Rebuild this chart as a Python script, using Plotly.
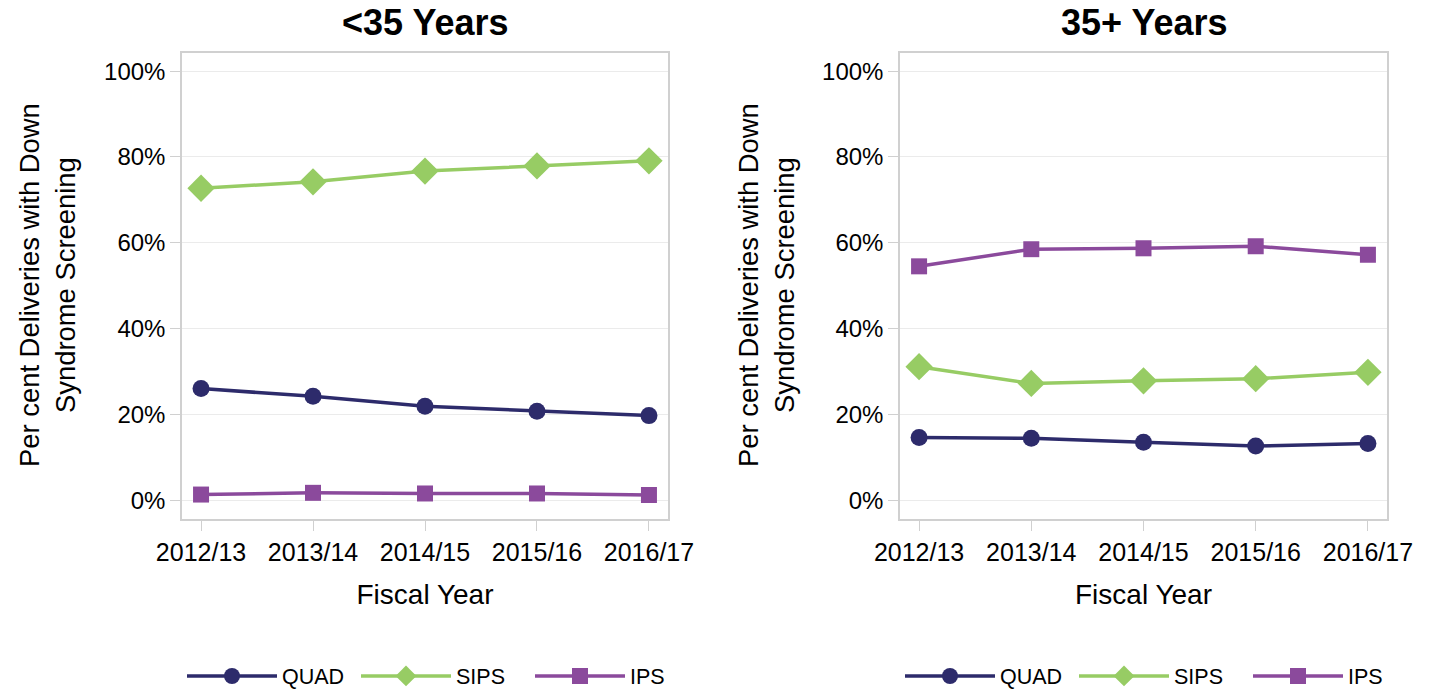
import plotly.graph_objects as go

years = ["2012/13", "2013/14", "2014/15", "2015/16", "2016/17"]
series_names = ["QUAD", "SIPS", "IPS"]

under35_quad = [26.0, 24.2, 21.9, 20.7, 19.7]
under35_sips = [72.7, 74.2, 76.7, 77.9, 79.1]
under35_ips = [1.3, 1.7, 1.55, 1.55, 1.2]

over35_quad = [14.6, 14.4, 13.5, 12.6, 13.2]
over35_sips = [31.1, 27.2, 27.8, 28.3, 29.8]
over35_ips = [54.5, 58.5, 58.7, 59.2, 57.2]

y_ticks = [0, 20, 40, 60, 80, 100]
y_tick_labels = ["0%", "20%", "40%", "60%", "80%", "100%"]

colors = {"QUAD": "#2D2B6B", "SIPS": "#97CC64", "IPS": "#8B4A9C"}
symbols = {"QUAD": "circle", "SIPS": "diamond", "IPS": "square"}
msize = {"QUAD": 17, "SIPS": 21, "IPS": 16}

W, H = 1429, 689
FONT = "Liberation Sans, Arial, sans-serif"

fig = go.Figure()

panels = [
    ("x", "y", "legend", [under35_quad, under35_sips, under35_ips]),
    ("x2", "y2", "legend2", [over35_quad, over35_sips, over35_ips]),
]
for xa, ya, lg, data in panels:
    for name, vals in zip(series_names, data):
        fig.add_trace(go.Scatter(
            x=years, y=vals, name=name, mode="lines+markers",
            xaxis=xa, yaxis=ya, legend=lg,
            line=dict(color=colors[name], width=3.5),
            marker=dict(symbol=symbols[name], size=msize[name], color=colors[name]),
        ))

def px(x):
    return x / W

def py(y):
    return (H - y) / H

ydom = [py(519), py(52.7)]
axis_common = dict(
    showline=True, linecolor="#D0D0D0", linewidth=1.5, mirror=True,
    ticks="outside", ticklen=10, tickcolor="#D0D0D0", tickwidth=1,
    tickfont=dict(size=24, color="#000", family=FONT), automargin=False,
)
xcommon = dict(axis_common, type="category", range=[-0.17, 4.17], showgrid=False,
               tickfont=dict(size=25, color="#000", family=FONT),
               title=dict(text="Fiscal Year", font=dict(size=28, color="#000", family=FONT), standoff=20))
ycommon = dict(axis_common, range=[-4.4, 104.3], tickvals=y_ticks, ticktext=y_tick_labels,
               showgrid=True, gridcolor="#EBEBEB", gridwidth=1.3, zeroline=False)

legend_common = dict(orientation="h", xanchor="left", yanchor="middle",
                     font=dict(size=21.5, family=FONT, color="#000"), entrywidth=69, itemwidth=90)

fig.update_layout(
    width=W, height=H,
    margin=dict(l=0, r=0, t=0, b=0, autoexpand=False),
    plot_bgcolor="white", paper_bgcolor="white",
    font=dict(family=FONT, color="#000"),
    xaxis=dict(xcommon, domain=[px(182), px(668)], anchor="y"),
    yaxis=dict(ycommon, domain=ydom, anchor="x"),
    xaxis2=dict(xcommon, domain=[px(900), px(1387)], anchor="y2"),
    yaxis2=dict(ycommon, domain=ydom, anchor="x2"),
    legend=dict(legend_common, x=px(182), y=py(676)),
    legend2=dict(legend_common, x=px(900), y=py(676)),
    annotations=[
        dict(text="<b><35 Years</b>", x=px(425), y=py(22), xref="paper", yref="paper",
             showarrow=False, font=dict(size=36, family=FONT, color="#000"), xanchor="center", yanchor="middle"),
        dict(text="<b>35+ Years</b>", x=px(1144), y=py(22), xref="paper", yref="paper",
             showarrow=False, font=dict(size=36, family=FONT, color="#000"), xanchor="center", yanchor="middle"),
        dict(text="Per cent Deliveries with Down<br>Syndrome Screening", x=px(47), y=py(285),
             xref="paper", yref="paper", showarrow=False, textangle=-90,
             font=dict(size=27.4, family=FONT, color="#000"), xanchor="center", yanchor="middle"),
        dict(text="Per cent Deliveries with Down<br>Syndrome Screening", x=px(766), y=py(285),
             xref="paper", yref="paper", showarrow=False, textangle=-90,
             font=dict(size=27.4, family=FONT, color="#000"), xanchor="center", yanchor="middle"),
    ],
)

fig.write_html("out.html", config={"displayModeBar": False},
               post_script="document.body.style.margin='0';document.body.style.overflow='hidden';")
